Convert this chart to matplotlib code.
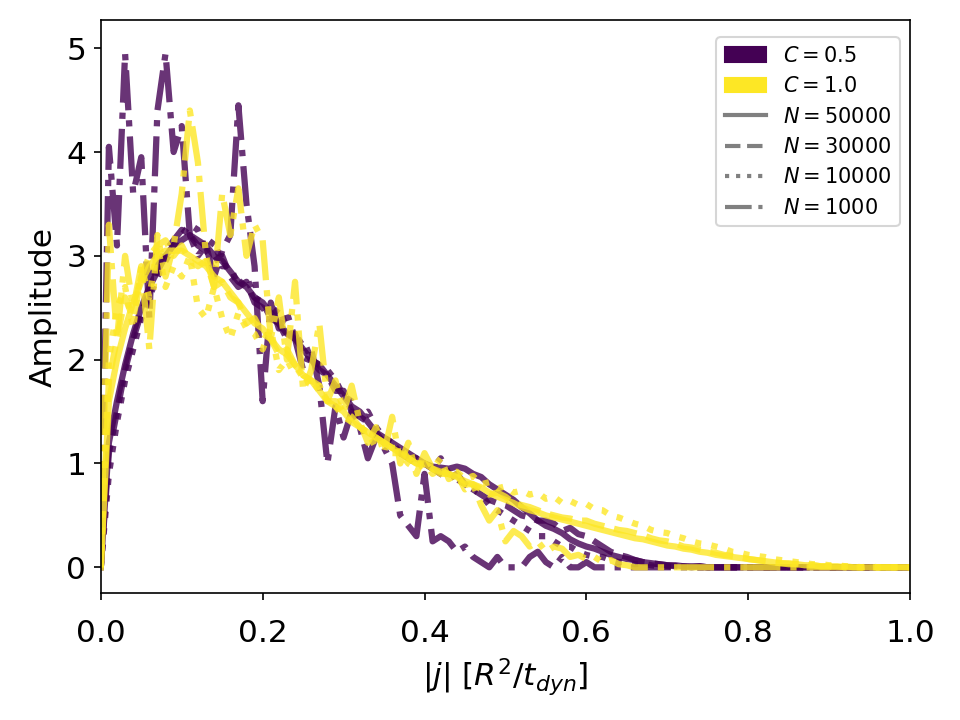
import numpy as np
import matplotlib
matplotlib.use("Agg")
import matplotlib.pyplot as plt
from matplotlib.patches import Patch
from matplotlib.lines import Line2D

# |j| grid (bins of 0.01)
j = np.round(np.arange(101) * 0.01, 2)

C_values = [0.5, 1.0]
N_values = [50000, 30000, 10000, 1000]
N_styles = ["-", "--", ":", "-."]

c05_n50000 = [0.0, 1.2, 1.6, 1.95, 2.25, 2.5, 2.7, 2.85, 3.0, 3.1,
              3.15, 3.2, 3.15, 3.1, 3.0, 2.95, 2.85, 2.75, 2.7, 2.6,
              2.55, 2.45, 2.35, 2.25, 2.2, 2.1, 2.0, 1.95, 1.85, 1.75,
              1.65, 1.55, 1.5, 1.4, 1.3, 1.25, 1.2, 1.15, 1.1, 1.05,
              1.0, 0.97, 0.96, 0.95, 0.97, 0.95, 0.9, 0.87, 0.8, 0.75,
              0.7, 0.65, 0.58, 0.52, 0.45, 0.4, 0.37, 0.33, 0.27, 0.23,
              0.2, 0.18, 0.15, 0.12, 0.1, 0.08, 0.07, 0.05, 0.04, 0.03,
              0.02, 0.02, 0.01, 0.01, 0.01, 0.0, 0.0, 0.0, 0.0, 0.0,
              0.0, 0.0, 0.0, 0.0, 0.0, 0.0, 0.0, 0.0, 0.0, 0.0,
              0.0, 0.0, 0.0, 0.0, 0.0, 0.0, 0.0, 0.0, 0.0, 0.0, 0.0]

c05_n30000 = [0.0, 1.1, 1.5, 1.9, 2.2, 2.45, 2.65, 2.9, 3.05, 3.15,
              3.25, 3.2, 3.1, 3.05, 2.95, 3.0, 2.8, 2.7, 2.75, 2.55,
              2.5, 2.4, 2.35, 2.2, 2.25, 2.05, 2.0, 1.9, 1.85, 1.7,
              1.7, 1.5, 1.45, 1.4, 1.3, 1.2, 1.2, 1.1, 1.05, 1.0,
              1.0, 0.95, 0.9, 0.85, 0.9, 0.8, 0.75, 0.7, 0.65, 0.62,
              0.6, 0.55, 0.5, 0.48, 0.45, 0.45, 0.42, 0.35, 0.38, 0.32,
              0.3, 0.25, 0.2, 0.15, 0.12, 0.1, 0.07, 0.05, 0.04, 0.03,
              0.02, 0.01, 0.01, 0.0, 0.01, 0.0, 0.0, 0.0, 0.0, 0.0,
              0.0, 0.0, 0.0, 0.0, 0.0, 0.0, 0.0, 0.0, 0.0, 0.0,
              0.0, 0.0, 0.0, 0.0, 0.0, 0.0, 0.0, 0.0, 0.0, 0.0, 0.0]

c05_n10000 = [0.0, 0.9, 1.4, 1.8, 2.1, 2.4, 2.6, 2.8, 2.95, 3.1,
              3.2, 3.3, 3.25, 3.05, 3.15, 2.9, 2.9, 2.7, 2.8, 2.6,
              2.55, 2.4, 2.5, 2.3, 2.15, 2.2, 2.0, 1.95, 1.9, 1.8,
              1.65, 1.6, 1.45, 1.5, 1.35, 1.25, 1.2, 1.1, 1.05, 1.05,
              1.0, 0.95, 1.05, 0.9, 0.85, 0.8, 0.75, 0.7, 0.6, 0.55,
              0.5, 0.45, 0.4, 0.35, 0.3, 0.3, 0.25, 0.2, 0.2, 0.15,
              0.12, 0.1, 0.1, 0.07, 0.05, 0.05, 0.03, 0.04, 0.02, 0.01,
              0.01, 0.0, 0.01, 0.0, 0.0, 0.0, 0.0, 0.0, 0.0, 0.0,
              0.0, 0.0, 0.0, 0.0, 0.0, 0.0, 0.0, 0.0, 0.0, 0.0,
              0.0, 0.0, 0.0, 0.0, 0.0, 0.0, 0.0, 0.0, 0.0, 0.0, 0.0]

c05_n1000 = [0.0, 4.05, 3.1, 4.95, 3.6, 3.95, 2.4, 4.4, 4.95, 4.0,
             4.25, 3.2, 3.0, 3.1, 2.8, 3.05, 3.2, 4.45, 3.5, 2.9,
             1.6, 2.55, 2.3, 2.45, 2.2, 1.9, 2.1, 1.75, 1.0, 1.55,
             1.25, 1.5, 1.35, 1.05, 1.25, 1.15, 1.0, 0.5, 0.4, 0.3,
             0.9, 0.25, 0.3, 0.25, 0.15, 0.2, 0.1, 0.05, 0.0, 0.1,
             0.0, 0.0, 0.0, 0.1, 0.15, 0.05, 0.0, 0.1, 0.0, 0.0,
             0.05, 0.0, 0.0, 0.0, 0.0, 0.0, 0.0, 0.0, 0.0, 0.0,
             0.0, 0.0, 0.0, 0.0, 0.0, 0.0, 0.0, 0.0, 0.0, 0.0,
             0.0, 0.0, 0.0, 0.0, 0.0, 0.0, 0.0, 0.0, 0.0, 0.0,
             0.0, 0.0, 0.0, 0.0, 0.0, 0.0, 0.0, 0.0, 0.0, 0.0, 0.0]

c10_n50000 = [0.0, 1.6, 2.0, 2.3, 2.55, 2.75, 2.9, 3.0, 3.05, 3.05,
              3.05, 3.0, 2.95, 2.9, 2.8, 2.75, 2.65, 2.55, 2.45, 2.35,
              2.3, 2.2, 2.1, 2.05, 1.95, 1.85, 1.8, 1.7, 1.6, 1.55,
              1.5, 1.4, 1.35, 1.3, 1.25, 1.2, 1.15, 1.1, 1.05, 1.0,
              1.0, 0.95, 0.92, 0.9, 0.87, 0.83, 0.8, 0.77, 0.72, 0.68,
              0.65, 0.62, 0.58, 0.55, 0.53, 0.5, 0.48, 0.46, 0.44, 0.42,
              0.4, 0.38, 0.36, 0.34, 0.32, 0.3, 0.28, 0.27, 0.25, 0.23,
              0.21, 0.2, 0.18, 0.17, 0.15, 0.14, 0.12, 0.11, 0.1, 0.09,
              0.08, 0.07, 0.06, 0.05, 0.04, 0.04, 0.03, 0.02, 0.02, 0.01,
              0.01, 0.01, 0.0, 0.0, 0.0, 0.0, 0.0, 0.0, 0.0, 0.0, 0.0]

c10_n30000 = [0.0, 1.8, 2.2, 2.6, 2.4, 2.8, 3.0, 3.1, 3.15, 3.0,
              3.1, 2.95, 2.9, 2.95, 2.7, 2.75, 2.6, 2.55, 2.35, 2.4,
              2.25, 2.2, 2.05, 2.1, 1.95, 1.85, 1.8, 1.75, 1.6, 1.6,
              1.5, 1.45, 1.35, 1.3, 1.25, 1.2, 1.15, 1.15, 1.05, 1.0,
              1.0, 0.95, 0.9, 0.9, 0.85, 0.8, 0.8, 0.75, 0.7, 0.72,
              0.68, 0.62, 0.6, 0.58, 0.55, 0.52, 0.5, 0.48, 0.47, 0.45,
              0.45, 0.42, 0.4, 0.38, 0.36, 0.35, 0.33, 0.31, 0.28, 0.26,
              0.25, 0.23, 0.2, 0.19, 0.17, 0.15, 0.14, 0.12, 0.11, 0.1,
              0.08, 0.07, 0.06, 0.05, 0.04, 0.03, 0.03, 0.02, 0.02, 0.01,
              0.01, 0.0, 0.01, 0.0, 0.0, 0.0, 0.0, 0.0, 0.0, 0.0, 0.0]

c10_n10000 = [0.0, 2.0, 2.5, 2.7, 2.3, 2.9, 2.6, 3.1, 2.7, 2.9,
              2.8, 3.0, 2.5, 2.4, 2.7, 2.4, 2.2, 2.45, 2.3, 2.25,
              2.1, 2.3, 1.9, 2.0, 1.85, 1.9, 1.7, 1.75, 1.6, 1.55,
              1.45, 1.4, 1.35, 1.3, 1.15, 1.2, 1.1, 1.1, 1.0, 0.95,
              1.0, 0.9, 0.95, 0.88, 0.92, 0.85, 0.88, 0.8, 0.82, 0.76,
              0.78, 0.72, 0.74, 0.7, 0.72, 0.66, 0.68, 0.62, 0.64, 0.6,
              0.61, 0.56, 0.55, 0.5, 0.48, 0.45, 0.42, 0.4, 0.36, 0.34,
              0.33, 0.3, 0.28, 0.25, 0.23, 0.22, 0.2, 0.18, 0.15, 0.14,
              0.12, 0.11, 0.1, 0.08, 0.07, 0.06, 0.05, 0.04, 0.03, 0.03,
              0.02, 0.02, 0.01, 0.01, 0.0, 0.01, 0.0, 0.0, 0.0, 0.0, 0.0]

c10_n1000 = [0.0, 3.3, 2.2, 3.0, 2.5, 2.9, 2.1, 3.2, 2.8, 3.1,
             3.6, 4.4, 3.9, 3.0, 2.7, 3.6, 3.2, 3.65, 3.0, 3.3,
             3.15, 2.2, 2.6, 2.0, 2.75, 1.7, 1.9, 2.35, 1.6, 1.8,
             1.5, 1.75, 1.4, 1.2, 1.35, 1.1, 1.45, 1.0, 1.2, 0.9,
             1.1, 0.95, 1.05, 0.85, 0.9, 0.75, 0.8, 0.6, 0.45, 0.55,
             0.25, 0.35, 0.3, 0.2, 0.25, 0.15, 0.2, 0.18, 0.1, 0.12,
             0.08, 0.1, 0.05, 0.07, 0.03, 0.02, 0.0, 0.0, 0.0, 0.0,
             0.0, 0.0, 0.0, 0.0, 0.0, 0.0, 0.0, 0.0, 0.0, 0.0,
             0.0, 0.0, 0.0, 0.0, 0.0, 0.0, 0.0, 0.0, 0.0, 0.0,
             0.0, 0.0, 0.0, 0.0, 0.0, 0.0, 0.0, 0.0, 0.0, 0.0, 0.0]

series = {
    0.5: [c05_n50000, c05_n30000, c05_n10000, c05_n1000],
    1.0: [c10_n50000, c10_n30000, c10_n10000, c10_n1000],
}
colors = {0.5: "#440154", 1.0: "#fde725"}

fig = plt.figure(figsize=(6.4, 4.8), dpi=150)
ax = fig.add_axes([0.105, 0.176, 0.843, 0.796])

for C in C_values:
    for vals, ls in zip(series[C], N_styles):
        ax.plot(j, vals, color=colors[C], ls=ls, lw=3, alpha=0.8)

ax.set_xlim(0, 1.0)
ax.set_ylim(-0.25, 5.27)
ax.set_xticks([0.0, 0.2, 0.4, 0.6, 0.8, 1.0])
ax.set_yticks([0, 1, 2, 3, 4, 5])
ax.tick_params(labelsize=15)
ax.tick_params(axis="x", pad=9)
ax.set_xlabel(r"$|j|$ $[R^2/t_{dyn}]$", fontsize=15)
ax.set_ylabel("Amplitude", fontsize=15)

handles = [Patch(color=colors[C], label=rf"$C = {C}$") for C in C_values]
handles += [Line2D([0], [0], color="gray", ls=ls, lw=2, label=rf"$N = {N}$")
            for N, ls in zip(N_values, N_styles)]
ax.legend(handles=handles, loc="upper right", fontsize=10,
          bbox_to_anchor=(1.0, 0.988))

fig.savefig("out.png", dpi=150)
